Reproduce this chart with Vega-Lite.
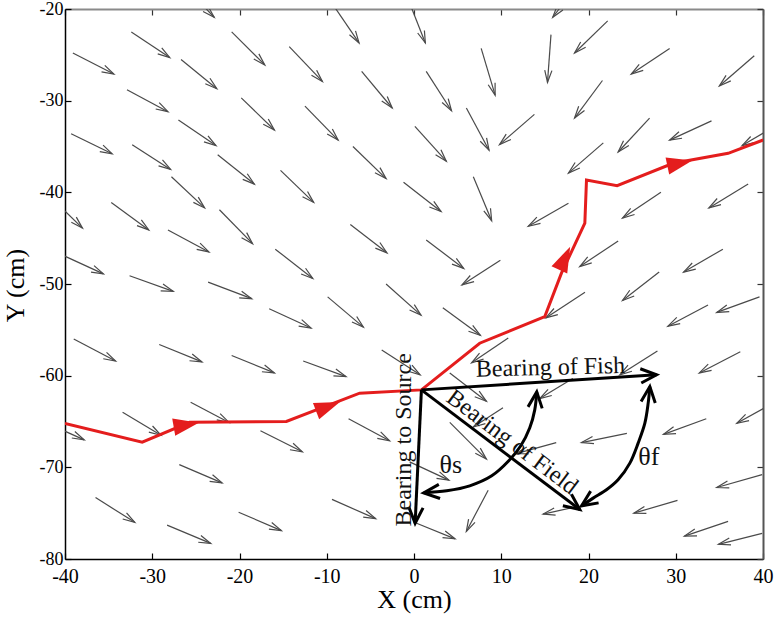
{
  "$schema": "https://vega.github.io/schema/vega-lite/v6.json",
  "width": 698,
  "height": 550,
  "autosize": {"type": "none"},
  "padding": {"left": 65, "top": 9, "right": 14, "bottom": 66},
  "background": "white",
  "config": {"view": {"stroke": null}},
  "datasets": {
    "field": [
      {"xt": -39.1, "yt": -24.8, "xh": -34.4, "yh": -27.1, "heading": 117},
      {"xt": -32.4, "yt": -22.5, "xh": -28.0, "yh": -25.3, "heading": 124},
      {"xt": -32.9, "yt": -28.8, "xh": -28.2, "yh": -31.2, "heading": 119},
      {"xt": -26.7, "yt": -25.5, "xh": -22.6, "yh": -28.7, "heading": 130},
      {"xt": -39.3, "yt": -33.6, "xh": -34.6, "yh": -35.8, "heading": 117},
      {"xt": -32.3, "yt": -34.8, "xh": -27.9, "yh": -37.5, "heading": 123},
      {"xt": -27.0, "yt": -32.1, "xh": -22.7, "yh": -34.9, "heading": 124},
      {"xt": -22.5, "yt": -35.9, "xh": -18.3, "yh": -39.1, "heading": 129},
      {"xt": -20.9, "yt": -22.5, "xh": -17.1, "yh": -26.1, "heading": 135},
      {"xt": -19.8, "yt": -29.7, "xh": -16.0, "yh": -33.2, "heading": 134},
      {"xt": -26.4, "yt": -17.4, "xh": -22.9, "yh": -20.9, "heading": 134},
      {"xt": -27.8, "yt": -38.3, "xh": -24.0, "yh": -41.7, "heading": 133},
      {"xt": -9.2, "yt": -19.65, "xh": -6.3, "yh": -23.7, "heading": 147},
      {"xt": -0.5, "yt": -19.35, "xh": 1.3, "yh": -23.7, "heading": 159},
      {"xt": -14.3, "yt": -24.1, "xh": -10.5, "yh": -27.9, "heading": 136},
      {"xt": -6.0, "yt": -26.8, "xh": -2.5, "yh": -30.8, "heading": 140},
      {"xt": 1.4, "yt": -26.8, "xh": 4.3, "yh": -31.1, "heading": 148},
      {"xt": 7.7, "yt": -24.3, "xh": 9.3, "yh": -29.4, "heading": 163},
      {"xt": -12.5, "yt": -30.6, "xh": -8.7, "yh": -34.3, "heading": 136},
      {"xt": 0.1, "yt": -32.8, "xh": 3.7, "yh": -36.6, "heading": 138},
      {"xt": 6.0, "yt": -30.8, "xh": 8.6, "yh": -35.4, "heading": 152},
      {"xt": -7.0, "yt": -35.0, "xh": -3.2, "yh": -38.5, "heading": 134},
      {"xt": -15.3, "yt": -37.6, "xh": -11.5, "yh": -41.1, "heading": 134},
      {"xt": -1.2, "yt": -38.9, "xh": 3.1, "yh": -42.1, "heading": 128},
      {"xt": 6.8, "yt": -38.3, "xh": 8.9, "yh": -43.1, "heading": 158},
      {"xt": 19.0, "yt": -17.06, "xh": 15.9, "yh": -20.9, "heading": 218},
      {"xt": 15.7, "yt": -22.8, "xh": 15.3, "yh": -28.0, "heading": 184},
      {"xt": 22.2, "yt": -21.3, "xh": 18.4, "yh": -24.8, "heading": 226},
      {"xt": 29.3, "yt": -24.3, "xh": 24.9, "yh": -27.1, "heading": 236},
      {"xt": 39.0, "yt": -25.1, "xh": 35.0, "yh": -28.4, "heading": 229},
      {"xt": 21.6, "yt": -27.8, "xh": 18.4, "yh": -31.9, "heading": 216},
      {"xt": 13.8, "yt": -31.5, "xh": 9.8, "yh": -34.8, "heading": 229},
      {"xt": 27.0, "yt": -31.9, "xh": 23.4, "yh": -35.6, "heading": 222},
      {"xt": 34.1, "yt": -32.2, "xh": 29.3, "yh": -34.3, "heading": 245},
      {"xt": 21.7, "yt": -34.6, "xh": 17.7, "yh": -37.9, "heading": 229},
      {"xt": 41.0, "yt": -33.0, "xh": 37.6, "yh": -34.9, "heading": 240},
      {"xt": 28.3, "yt": -40.0, "xh": 23.9, "yh": -42.8, "heading": 237},
      {"xt": 38.3, "yt": -39.1, "xh": 33.8, "yh": -41.7, "heading": 238},
      {"xt": 17.7, "yt": -41.2, "xh": 13.1, "yh": -43.7, "heading": 240},
      {"xt": 23.4, "yt": -45.3, "xh": 19.0, "yh": -48.1, "heading": 236},
      {"xt": 35.4, "yt": -46.2, "xh": 30.9, "yh": -48.7, "heading": 240},
      {"xt": 28.1, "yt": -48.7, "xh": 23.9, "yh": -51.8, "heading": 232},
      {"xt": 19.6, "yt": -50.9, "xh": 15.1, "yh": -53.7, "heading": 238},
      {"xt": 39.6, "yt": -51.4, "xh": 34.7, "yh": -53.1, "heading": 250},
      {"xt": 33.7, "yt": -52.3, "xh": 29.1, "yh": -54.6, "heading": 242},
      {"xt": 27.9, "yt": -57.3, "xh": 23.6, "yh": -59.9, "heading": 237},
      {"xt": 37.4, "yt": -57.4, "xh": 32.7, "yh": -59.7, "heading": 242},
      {"xt": -22.3, "yt": -41.9, "xh": -18.5, "yh": -45.6, "heading": 135},
      {"xt": -7.3, "yt": -43.5, "xh": -3.1, "yh": -46.6, "heading": 129},
      {"xt": 1.4, "yt": -45.2, "xh": 5.7, "yh": -48.3, "heading": 127},
      {"xt": 9.9, "yt": -47.4, "xh": 5.5, "yh": -50.1, "heading": 238},
      {"xt": -15.9, "yt": -46.2, "xh": -11.6, "yh": -49.4, "heading": 128},
      {"xt": -3.2, "yt": -50.0, "xh": 0.8, "yh": -53.4, "heading": 131},
      {"xt": -9.9, "yt": -51.4, "xh": -5.8, "yh": -54.7, "heading": 131},
      {"xt": 3.3, "yt": -52.6, "xh": 7.6, "yh": -55.6, "heading": 126},
      {"xt": -16.6, "yt": -52.7, "xh": -11.8, "yh": -54.8, "heading": 115},
      {"xt": -20.9, "yt": -57.8, "xh": -16.0, "yh": -59.7, "heading": 112},
      {"xt": -12.7, "yt": -58.4, "xh": -7.8, "yh": -60.1, "heading": 110},
      {"xt": -3.7, "yt": -57.2, "xh": 0.7, "yh": -59.9, "heading": 123},
      {"xt": 10.8, "yt": -55.9, "xh": 6.6, "yh": -58.6, "heading": 236},
      {"xt": 4.1, "yt": -59.7, "xh": 8.3, "yh": -62.8, "heading": 128},
      {"xt": -34.7, "yt": -41.1, "xh": -30.4, "yh": -44.1, "heading": 127},
      {"xt": -40.6, "yt": -41.5, "xh": -38.0, "yh": -43.9, "heading": 134},
      {"xt": -28.2, "yt": -44.1, "xh": -23.5, "yh": -46.5, "heading": 118},
      {"xt": -40.4, "yt": -46.8, "xh": -35.6, "yh": -48.9, "heading": 115},
      {"xt": -32.6, "yt": -49.1, "xh": -27.6, "yh": -50.8, "heading": 109},
      {"xt": -23.6, "yt": -49.8, "xh": -18.6, "yh": -51.6, "heading": 110},
      {"xt": -39.0, "yt": -56.0, "xh": -34.2, "yh": -58.4, "heading": 117},
      {"xt": -29.2, "yt": -56.6, "xh": -24.3, "yh": -58.5, "heading": 112},
      {"xt": -41.8, "yt": -65.3, "xh": -37.8, "yh": -67.0, "heading": 115},
      {"xt": -33.4, "yt": -64.0, "xh": -29.0, "yh": -66.5, "heading": 121},
      {"xt": -25.6, "yt": -62.9, "xh": -21.2, "yh": -65.1, "heading": 118},
      {"xt": -26.9, "yt": -69.7, "xh": -22.0, "yh": -71.7, "heading": 114},
      {"xt": -36.5, "yt": -73.3, "xh": -32.0, "yh": -76.0, "heading": 122},
      {"xt": -28.3, "yt": -76.3, "xh": -23.3, "yh": -78.3, "heading": 112},
      {"xt": -20.1, "yt": -74.9, "xh": -15.2, "yh": -76.9, "heading": 113},
      {"xt": -17.6, "yt": -66.0, "xh": -12.8, "yh": -68.3, "heading": 116},
      {"xt": -7.5, "yt": -64.7, "xh": -2.8, "yh": -67.1, "heading": 118},
      {"xt": -9.4, "yt": -73.5, "xh": -4.4, "yh": -75.6, "heading": 114},
      {"xt": 0.3, "yt": -76.1, "xh": 4.7, "yh": -77.8, "heading": 112},
      {"xt": -0.5, "yt": -69.4, "xh": 4.0, "yh": -71.4, "heading": 115},
      {"xt": 4.1, "yt": -65.1, "xh": 8.3, "yh": -69.1, "heading": 134},
      {"xt": 8.5, "yt": -72.5, "xh": 6.0, "yh": -77.0, "heading": 207},
      {"xt": 10.2, "yt": -63.5, "xh": 6.8, "yh": -65.6, "heading": 238},
      {"xt": 41.9, "yt": -62.6, "xh": 37.0, "yh": -65.2, "heading": 241},
      {"xt": 33.5, "yt": -64.7, "xh": 28.6, "yh": -66.4, "heading": 250},
      {"xt": 24.4, "yt": -66.3, "xh": 19.2, "yh": -67.3, "heading": 258},
      {"xt": 16.3, "yt": -67.3, "xh": 11.7, "yh": -68.5, "heading": 255},
      {"xt": 39.9, "yt": -70.8, "xh": 34.7, "yh": -72.2, "heading": 255},
      {"xt": 30.2, "yt": -73.6, "xh": 25.2, "yh": -75.0, "heading": 254},
      {"xt": 36.0, "yt": -75.9, "xh": 31.0, "yh": -77.5, "heading": 252},
      {"xt": 39.9, "yt": -77.2, "xh": 34.9, "yh": -78.4, "heading": 256},
      {"xt": 18.6, "yt": -74.3, "xh": 14.8, "yh": -75.1, "heading": 258},
      {"xt": 18.2, "yt": -60.3, "xh": 14.4, "yh": -62.5, "heading": 239}
    ],
    "track": [
      {"i": 1, "x": -40.0, "y": -65.2},
      {"i": 2, "x": -31.15, "y": -67.25},
      {"i": 3, "x": -25.72, "y": -65.09},
      {"i": 4, "x": -14.63, "y": -65.0},
      {"i": 5, "x": -6.23, "y": -61.91},
      {"i": 6, "x": 0.85, "y": -61.55},
      {"i": 7, "x": 7.53, "y": -56.46},
      {"i": 8, "x": 14.99, "y": -53.55},
      {"i": 9, "x": 16.9, "y": -48.82},
      {"i": 10, "x": 19.58, "y": -43.37},
      {"i": 11, "x": 19.77, "y": -38.65},
      {"i": 12, "x": 23.28, "y": -39.27},
      {"i": 13, "x": 29.7, "y": -36.83},
      {"i": 14, "x": 36.01, "y": -35.74},
      {"i": 15, "x": 40.02, "y": -34.29}
    ],
    "trackHeads": [
      {"x": -26.1, "y": -65.37, "heading": 80},
      {"x": -9.86, "y": -63.37, "heading": 69},
      {"x": 17.28, "y": -47.19, "heading": 25},
      {"x": 30.47, "y": -36.83, "heading": 78}
    ],
    "bearings": [
      {"name": "Fish", "xt": 0.85, "yt": -61.55, "xh": 27.8, "yh": -59.9},
      {"name": "Source", "xt": 0.85, "yt": -61.55, "xh": 0.13, "yh": -76.1},
      {"name": "Field", "xt": 0.85, "yt": -61.55, "xh": 19.0, "yh": -74.6}
    ],
    "arcs": [
      {"arc": "s", "i": 0, "x": 14.07, "y": -61.77},
      {"arc": "s", "i": 1, "x": 13.84, "y": -63.73},
      {"arc": "s", "i": 2, "x": 13.27, "y": -65.69},
      {"arc": "s", "i": 3, "x": 12.24, "y": -67.65},
      {"arc": "s", "i": 4, "x": 10.86, "y": -69.29},
      {"arc": "s", "i": 5, "x": 8.91, "y": -70.93},
      {"arc": "s", "i": 6, "x": 6.39, "y": -72.02},
      {"arc": "s", "i": 7, "x": 3.75, "y": -72.56},
      {"arc": "s", "i": 8, "x": 1.11, "y": -72.78},
      {"arc": "f", "i": 0, "x": 27.03, "y": -61.19},
      {"arc": "f", "i": 1, "x": 26.84, "y": -63.0},
      {"arc": "f", "i": 2, "x": 26.46, "y": -65.18},
      {"arc": "f", "i": 3, "x": 25.69, "y": -67.36},
      {"arc": "f", "i": 4, "x": 24.74, "y": -69.54},
      {"arc": "f", "i": 5, "x": 23.39, "y": -71.36},
      {"arc": "f", "i": 6, "x": 22.06, "y": -72.45},
      {"arc": "f", "i": 7, "x": 20.53, "y": -73.36},
      {"arc": "f", "i": 8, "x": 19.2, "y": -74.2}
    ],
    "blackHeads": [
      {"x": 27.8, "y": -59.9, "heading": 86},
      {"x": 0.13, "y": -76.1, "heading": 183},
      {"x": 19.0, "y": -74.6, "heading": 127},
      {"x": 14.07, "y": -61.77, "heading": 6},
      {"x": 1.11, "y": -72.78, "heading": 265},
      {"x": 27.03, "y": -61.19, "heading": 6},
      {"x": 19.2, "y": -74.2, "heading": 236}
    ],
    "labels": [
      {"label": "θs", "x": 4.21, "y": -70.6},
      {"label": "θf", "x": 26.92, "y": -69.73}
    ]
  },
  "resolve": {"axis": {"x": "independent", "y": "independent"}},
  "layer": [
    {
      "data": {"name": "field"},
      "mark": {"type": "rule", "color": "#4a4a4a", "strokeWidth": 1.2, "clip": true},
      "encoding": {
        "x": {"field": "xt", "type": "quantitative", "scale": {"domain": [-40, 40], "nice": false, "zero": false},
          "axis": {"orient": "bottom", "values": [-40, -30, -20, -10, 0, 10, 20, 30, 40], "grid": false,
            "tickSize": -6, "tickColor": "black", "tickWidth": 1.2, "domainColor": "black", "domainWidth": 1.5,
            "labelPadding": 13, "labelFont": "Liberation Serif", "labelFontSize": 20, "labelColor": "black",
            "labelFlush": false, "labelOverlap": false,
            "labelExpr": "datum.value < 0 ? '-' + abs(datum.value) : '' + datum.value",
            "title": "X (cm)", "titleFont": "Liberation Serif", "titleFontSize": 26, "titleFontWeight": "normal",
            "titleColor": "black", "titleBaseline": "alphabetic", "titleY": 48}},
        "y": {"field": "yt", "type": "quantitative", "scale": {"domain": [-80, -20], "nice": false, "zero": false},
          "axis": {"orient": "left", "values": [-80, -70, -60, -50, -40, -30, -20], "grid": false,
            "tickSize": -6, "tickColor": "black", "tickWidth": 1.2, "domainColor": "black", "domainWidth": 1.5,
            "labelPadding": 8, "labelFont": "Liberation Serif", "labelFontSize": 18, "labelColor": "black",
            "labelFlush": false, "labelOverlap": false,
            "labelExpr": "datum.value < 0 ? '-' + abs(datum.value) : '' + datum.value",
            "title": "Y (cm)", "titleFont": "Liberation Serif", "titleFontSize": 26, "titleFontWeight": "normal",
            "titleColor": "black", "titleAngle": 270, "titleBaseline": "alphabetic", "titleX": -42, "titleY": 276}},
        "x2": {"field": "xh"},
        "y2": {"field": "yh"}
      }
    },
    {
      "data": {"name": "field"},
      "mark": {"type": "point", "shape": "M -0.3 1 L 0 0 L 0.3 1", "filled": false, "size": 576, "stroke": "#4a4a4a", "strokeWidth": 1.2, "opacity": 1, "clip": true},
      "encoding": {
        "x": {"field": "xh", "type": "quantitative", "scale": {"domain": [-40, 40], "nice": false, "zero": false},
          "axis": {"orient": "top", "values": [-40, -30, -20, -10, 0, 10, 20, 30, 40], "grid": false, "labels": false,
            "tickSize": -6, "tickColor": "#333333", "tickWidth": 1.2, "domainColor": "#8a8a8a", "domainWidth": 2, "title": null}},
        "y": {"field": "yh", "type": "quantitative", "scale": {"domain": [-80, -20], "nice": false, "zero": false},
          "axis": {"orient": "right", "values": [-80, -70, -60, -50, -40, -30, -20], "grid": false, "labels": false,
            "tickSize": -6, "tickColor": "#333333", "tickWidth": 1.2, "domainColor": "#555555", "domainWidth": 2, "title": null}},
        "angle": {"field": "heading", "type": "quantitative", "scale": null}
      }
    },
    {
      "data": {"name": "track"},
      "mark": {"type": "line", "color": "#e41d1d", "strokeWidth": 3, "clip": true},
      "encoding": {
        "x": {"field": "x", "type": "quantitative", "scale": {"domain": [-40, 40], "nice": false, "zero": false}, "axis": null},
        "y": {"field": "y", "type": "quantitative", "scale": {"domain": [-80, -20], "nice": false, "zero": false}, "axis": null},
        "order": {"field": "i", "type": "quantitative"}
      }
    },
    {
      "data": {"name": "trackHeads"},
      "mark": {"type": "point", "shape": "M 0 -1 L 0.68 1 L -0.68 1 Z", "filled": true, "size": 650, "color": "#e41d1d", "opacity": 1},
      "encoding": {
        "x": {"field": "x", "type": "quantitative", "scale": {"domain": [-40, 40], "nice": false, "zero": false}, "axis": null},
        "y": {"field": "y", "type": "quantitative", "scale": {"domain": [-80, -20], "nice": false, "zero": false}, "axis": null},
        "angle": {"field": "heading", "type": "quantitative", "scale": null}
      }
    },
    {
      "data": {"name": "bearings"},
      "mark": {"type": "rule", "color": "black", "strokeWidth": 3},
      "encoding": {
        "x": {"field": "xt", "type": "quantitative", "scale": {"domain": [-40, 40], "nice": false, "zero": false}, "axis": null},
        "y": {"field": "yt", "type": "quantitative", "scale": {"domain": [-80, -20], "nice": false, "zero": false}, "axis": null},
        "x2": {"field": "xh"},
        "y2": {"field": "yh"}
      }
    },
    {
      "data": {"name": "arcs"},
      "mark": {"type": "line", "color": "black", "strokeWidth": 3, "interpolate": "catmull-rom"},
      "encoding": {
        "x": {"field": "x", "type": "quantitative", "scale": {"domain": [-40, 40], "nice": false, "zero": false}, "axis": null},
        "y": {"field": "y", "type": "quantitative", "scale": {"domain": [-80, -20], "nice": false, "zero": false}, "axis": null},
        "detail": {"field": "arc", "type": "nominal"},
        "order": {"field": "i", "type": "quantitative"}
      }
    },
    {
      "data": {"name": "blackHeads"},
      "mark": {"type": "point", "shape": "M -0.45 1 L 0 0 L 0.45 1", "filled": false, "size": 1000, "stroke": "black", "strokeWidth": 3, "opacity": 1, "strokeJoin": "miter"},
      "encoding": {
        "x": {"field": "x", "type": "quantitative", "scale": {"domain": [-40, 40], "nice": false, "zero": false}, "axis": null},
        "y": {"field": "y", "type": "quantitative", "scale": {"domain": [-80, -20], "nice": false, "zero": false}, "axis": null},
        "angle": {"field": "heading", "type": "quantitative", "scale": null}
      }
    },
    {
      "data": {"values": [{"label": "Bearing of Fish", "x": 15.66, "y": -59.91}]},
      "mark": {"type": "text", "font": "Liberation Serif", "fontSize": 24, "color": "#111111", "align": "center", "baseline": "alphabetic", "angle": -1.5},
      "encoding": {
        "x": {"field": "x", "type": "quantitative", "scale": {"domain": [-40, 40], "nice": false, "zero": false}, "axis": null},
        "y": {"field": "y", "type": "quantitative", "scale": {"domain": [-80, -20], "nice": false, "zero": false}, "axis": null},
        "text": {"field": "label"}
      }
    },
    {
      "data": {"values": [{"label": "Bearing to Source", "x": -0.38, "y": -67.0}]},
      "mark": {"type": "text", "font": "Liberation Serif", "fontSize": 24, "color": "#111111", "align": "center", "baseline": "alphabetic", "angle": 270},
      "encoding": {
        "x": {"field": "x", "type": "quantitative", "scale": {"domain": [-40, 40], "nice": false, "zero": false}, "axis": null},
        "y": {"field": "y", "type": "quantitative", "scale": {"domain": [-80, -20], "nice": false, "zero": false}, "axis": null},
        "text": {"field": "label"}
      }
    },
    {
      "data": {"values": [{"label": "Bearing of Field", "x": 10.75, "y": -67.87}]},
      "mark": {"type": "text", "font": "Liberation Serif", "fontSize": 24, "color": "#111111", "align": "center", "baseline": "alphabetic", "angle": 37},
      "encoding": {
        "x": {"field": "x", "type": "quantitative", "scale": {"domain": [-40, 40], "nice": false, "zero": false}, "axis": null},
        "y": {"field": "y", "type": "quantitative", "scale": {"domain": [-80, -20], "nice": false, "zero": false}, "axis": null},
        "text": {"field": "label"}
      }
    },
    {
      "data": {"name": "labels"},
      "mark": {"type": "text", "font": "Liberation Serif", "fontSize": 26, "color": "#111111", "align": "center", "baseline": "alphabetic"},
      "encoding": {
        "x": {"field": "x", "type": "quantitative", "scale": {"domain": [-40, 40], "nice": false, "zero": false}, "axis": null},
        "y": {"field": "y", "type": "quantitative", "scale": {"domain": [-80, -20], "nice": false, "zero": false}, "axis": null},
        "text": {"field": "label"}
      }
    }
  ]
}
